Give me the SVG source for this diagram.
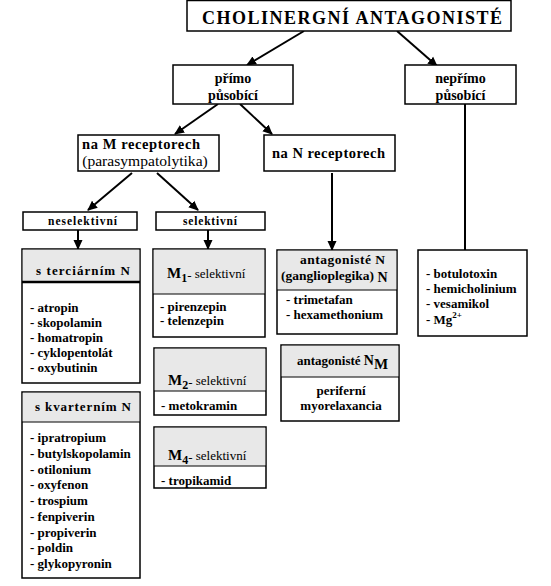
<svg xmlns="http://www.w3.org/2000/svg" width="551" height="586" viewBox="0 0 551 586" font-family="'Liberation Serif', 'Times New Roman', 'DejaVu Serif', serif">
<defs>
<marker id="ah" markerWidth="11" markerHeight="11" refX="9" refY="5.5" orient="auto" markerUnits="userSpaceOnUse">
<path d="M0,1 L10,5.5 L0,10 z" fill="#000"/>
</marker>
<style>
text{font-family:'Liberation Serif','Times New Roman','DejaVu Serif',serif;fill:#000}
.b{font-weight:bold}
.box{fill:#fff;stroke:#000;stroke-width:1.5}
.hdr{fill:#e8e8e8;stroke:none}
.sep{stroke:#000;stroke-width:1.2}
.c{text-anchor:middle}
.it{font-weight:bold;font-size:13px}
.conn line{stroke:#000;stroke-width:2}
</style>
</defs>
<rect width="551" height="586" fill="#fff"/>

<g id="connectors" class="conn">
<line x1="304" y1="31" x2="247" y2="65" marker-end="url(#ah)"/>
<line x1="397" y1="31" x2="437" y2="66" marker-end="url(#ah)"/>
<line x1="465" y1="104" x2="465" y2="250"/>
<line x1="218" y1="104" x2="175" y2="134" marker-end="url(#ah)"/>
<line x1="240" y1="104" x2="272" y2="134" marker-end="url(#ah)"/>
<line x1="132" y1="173" x2="88" y2="210" marker-end="url(#ah)"/>
<line x1="157" y1="173" x2="198" y2="210" marker-end="url(#ah)"/>
<line x1="78" y1="230" x2="78" y2="249" marker-end="url(#ah)"/>
<line x1="208" y1="230" x2="208" y2="249" marker-end="url(#ah)"/>
<line x1="332" y1="173" x2="332" y2="250" marker-end="url(#ah)"/>
</g>

<g id="title">
<rect class="box" x="187" y="0.5" width="324" height="30.5"/>
<text class="b" x="202" y="24" font-size="18" textLength="300" lengthAdjust="spacing">CHOLINERGNÍ ANTAGONISTÉ</text>
</g>

<g id="primo">
<rect class="box" x="173" y="65" width="120" height="39"/>
<text class="b c" x="233" y="83" font-size="14">přímo</text>
<text class="b c" x="233" y="100" font-size="14">působící</text>
</g>

<g id="neprimo">
<rect class="box" x="405" y="65" width="111" height="39"/>
<text class="b c" x="460.5" y="83" font-size="14">nepřímo</text>
<text class="b c" x="460.5" y="100" font-size="14">působící</text>
</g>

<g id="naM">
<rect class="box" x="78" y="135" width="141" height="36"/>
<text class="b" x="82" y="149" font-size="14.5" textLength="118" lengthAdjust="spacing">na M receptorech</text>
<text class="c" x="145" y="166" font-size="15.6">(parasympatolytika)</text>
</g>

<g id="naN">
<rect class="box" x="264" y="135" width="131" height="36"/>
<text class="b" x="272" y="158" font-size="14.5" textLength="113" lengthAdjust="spacing">na N receptorech</text>
</g>

<g id="neselektivni">
<rect class="box" x="23" y="212" width="114" height="18"/>
<text class="b" x="48" y="225" font-size="11.5" textLength="69" lengthAdjust="spacing">neselektivní</text>
</g>

<g id="selektivni">
<rect class="box" x="156" y="212" width="109" height="18"/>
<text class="b" x="183" y="225" font-size="11.5" textLength="54" lengthAdjust="spacing">selektivní</text>
</g>

<g id="terciarni">
<rect class="box" x="22" y="249" width="118" height="134"/>
<rect class="hdr" x="22.75" y="249.75" width="116.5" height="32"/>
<line x1="22" y1="282" x2="140" y2="282" stroke="#000" stroke-width="2.5"/>
<text class="b" x="36" y="275" font-size="13" textLength="94" lengthAdjust="spacing">s terciárním N</text>
<text class="it" x="30" y="312">- atropin</text>
<text class="it" x="30" y="327">- skopolamin</text>
<text class="it" x="30" y="342">- homatropin</text>
<text class="it" x="30" y="357">- cyklopentolát</text>
<text class="it" x="30" y="372">- oxybutinin</text>
</g>

<g id="kvarterni">
<rect class="box" x="22" y="392" width="118" height="186"/>
<rect class="hdr" x="22.75" y="392.75" width="116.5" height="29"/>
<line class="sep" x1="22" y1="422" x2="140" y2="422"/>
<text class="b" x="35" y="411" font-size="13" textLength="96" lengthAdjust="spacing">s kvarterním N</text>
<text class="it" x="30" y="442">- ipratropium</text>
<text class="it" x="30" y="457.7">- butylskopolamin</text>
<text class="it" x="30" y="473.5">- otilonium</text>
<text class="it" x="30" y="489.2">- oxyfenon</text>
<text class="it" x="30" y="505">- trospium</text>
<text class="it" x="30" y="520.7">- fenpiverin</text>
<text class="it" x="30" y="536.5">- propiverin</text>
<text class="it" x="30" y="552.2">- poldin</text>
<text class="it" x="30" y="568">- glykopyronin</text>
</g>

<g id="m1">
<rect class="box" x="153" y="249" width="112" height="88"/>
<rect class="hdr" x="153.75" y="249.75" width="110.5" height="44"/>
<line class="sep" x1="153" y1="294" x2="265" y2="294"/>
<text x="167" y="278" font-size="13"><tspan class="b" font-size="15">M</tspan><tspan class="b" font-size="12" dy="4">1</tspan><tspan dy="-2">-</tspan><tspan dy="-2"> selektivní</tspan></text>
<text class="it" x="160" y="311">- pirenzepin</text>
<text class="it" x="160" y="325">- telenzepin</text>
</g>

<g id="m2">
<rect class="box" x="154" y="348" width="112" height="67"/>
<rect class="hdr" x="154.75" y="348.75" width="110.5" height="42"/>
<line class="sep" x1="154" y1="391" x2="266" y2="391"/>
<text x="168" y="385" font-size="13"><tspan class="b" font-size="15">M</tspan><tspan class="b" font-size="12" dy="4">2</tspan><tspan dy="-2">-</tspan><tspan dy="-2"> selektivní</tspan></text>
<text class="it" x="161" y="410">- metokramin</text>
</g>

<g id="m4">
<rect class="box" x="154" y="427" width="112" height="61"/>
<rect class="hdr" x="154.75" y="427.75" width="110.5" height="38"/>
<line class="sep" x1="154" y1="466" x2="266" y2="466"/>
<text x="168" y="460" font-size="13"><tspan class="b" font-size="15">M</tspan><tspan class="b" font-size="12" dy="4">4</tspan><tspan dy="-2">-</tspan><tspan dy="-2"> selektivní</tspan></text>
<text class="it" x="161" y="485">- tropikamid</text>
</g>

<g id="antagN">
<rect class="box" x="277" y="250" width="120" height="84"/>
<rect class="hdr" x="277.75" y="250.75" width="118.5" height="39"/>
<line class="sep" x1="277" y1="290" x2="397" y2="290"/>
<text class="b" x="300" y="264" font-size="13.5" textLength="85" lengthAdjust="spacing">antagonisté N</text>
<text class="b" x="281" y="280" font-size="13.5">(ganglioplegika) <tspan font-size="14" dy="2">N</tspan></text>
<text class="it" x="286" y="304">- trimetafan</text>
<text class="it" x="286" y="319">- hexamethonium</text>
</g>

<g id="antagNM">
<rect class="box" x="281" y="345" width="118" height="76"/>
<rect class="hdr" x="281.75" y="345.75" width="116.5" height="31"/>
<line class="sep" x1="281" y1="377" x2="399" y2="377"/>
<text class="b" x="297" y="365" font-size="13">antagonisté <tspan font-size="14">N</tspan><tspan font-size="15" dy="4">M</tspan></text>
<text class="it c" x="341" y="395">periferní</text>
<text class="it c" x="341" y="410">myorelaxancia</text>
</g>

<g id="neprimeList">
<rect class="box" x="418" y="250" width="109" height="86"/>
<text class="it" x="426" y="278">- botulotoxin</text>
<text class="it" x="426" y="293">- hemicholinium</text>
<text class="it" x="426" y="308">- vesamikol</text>
<text class="it" x="426" y="324">- Mg<tspan font-size="9" dy="-6">2+</tspan></text>
</g>
</svg>
